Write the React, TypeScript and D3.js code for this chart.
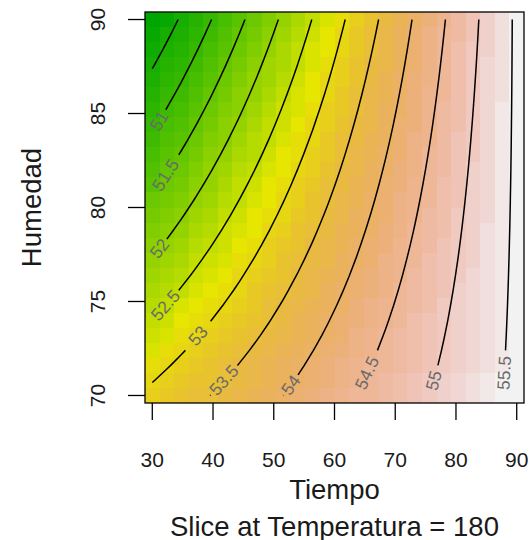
import React, { useRef, useEffect } from "react";
import { select, scaleLinear, scaleQuantize, contours, extent, line } from "d3";

// grid of the fitted surface, Temperatura held at 180
const tiempo = [30, 32.4, 34.8, 37.2, 39.6, 42, 44.4, 46.8, 49.2, 51.6, 54, 56.4, 58.8, 61.2, 63.6, 66, 68.4, 70.8, 73.2, 75.6, 78, 80.4, 82.8, 85.2, 87.6, 90];
const humedad = [70, 70.8, 71.6, 72.4, 73.2, 74, 74.8, 75.6, 76.4, 77.2, 78, 78.8, 79.6, 80.4, 81.2, 82, 82.8, 83.6, 84.4, 85.2, 86, 86.8, 87.6, 88.4, 89.2, 90];

// second order model in coded units: x1 = (Tiempo - 60) / 30, x2 = (Humedad - 80) / 10
const coefNames = ["(Intercept)", "x1", "x2", "x1:x2", "x1^2", "x2^2"];
const coefValues = [53.585, 1.986, -0.755, 0.741, 0, 0.01];

const levels = [50.5, 51, 51.5, 52, 52.5, 53, 53.5, 54, 54.5, 55, 55.5];
// where each contour label sits (data units), null = no label
const labelTiempo = [null, 31.6, 31.6, 31.6, 32.9, 37.5, 42.0, 53.5, 65.3, 76.5, 88.1];
const labelHumedad = [null, 84.8, 81.9, 78.2, 74.9, 73.2, 71.1, 70.9, 71.2, 71.1, 71.5];

const xTicks = [30, 40, 50, 60, 70, 80, 90];
const yTicks = [70, 75, 80, 85, 90];
const xTitle = "Tiempo";
const yTitle = "Humedad";
const subTitle = "Slice at Temperatura = 180";

const FONT = "Liberation Sans, Arial, Helvetica, sans-serif";
const L = 145, R = 524, T = 12, B = 403;

function predict(t: number, h: number) {
  const x1 = (t - 60) / 30;
  const x2 = (h - 80) / 10;
  const terms = [1, x1, x2, x1 * x2, x1 * x1, x2 * x2];
  return terms.reduce((s, v, i) => s + v * coefValues[i], 0);
}

// R's hsv()
function hsv(h: number, s: number, v: number) {
  const h6 = h * 6;
  const i = Math.floor(h6) % 6;
  const f = h6 - Math.floor(h6);
  const p = v * (1 - s), q = v * (1 - s * f), t = v * (1 - s * (1 - f));
  const rgb = [[v, t, p], [q, v, p], [p, v, t], [p, q, v], [t, p, v], [v, p, q]][i];
  return "rgb(" + rgb.map((c) => Math.round(c * 255)).join(",") + ")";
}

// R's terrain.colors(n)
function terrainColors(n: number) {
  const k = Math.floor(n / 2);
  const out: string[] = [];
  for (let i = 0; i < k; i++) {
    const f = i / (k - 1);
    out.push(hsv(1 / 3 - f / 6, 1, 0.65 + 0.25 * f));
  }
  const m = n - k;
  for (let i = 1; i <= m; i++) {
    const f = i / m;
    out.push(hsv((1 - f) / 6, 1 - f, 0.9 + 0.05 * f));
  }
  return out;
}

function cellEdges(a: number[]) {
  const n = a.length;
  return [a[0] - (a[1] - a[0]) / 2, ...a.slice(0, -1).map((v, i) => (v + a[i + 1]) / 2), a[n - 1] + (a[n - 1] - a[n - 2]) / 2];
}

// contour rings -> open lines inside the grid hull
function openRuns(geom: any, nx: number, ny: number) {
  const runs: number[][][] = [];
  const inside = (p: number[]) => p[0] > 0 && p[0] < nx && p[1] > 0 && p[1] < ny;
  geom.coordinates.forEach((poly: any) =>
    poly.forEach((ring: number[][]) => {
      let pts = ring.slice(0, -1);
      const b = pts.findIndex((p) => !inside(p));
      if (b < 0) {
        runs.push(ring);
        return;
      }
      pts = pts.slice(b).concat(pts.slice(0, b));
      let cur: number[][] = [];
      pts.forEach((p) => {
        if (inside(p)) cur.push(p);
        else {
          if (cur.length > 1) runs.push(cur);
          cur = [];
        }
      });
      if (cur.length > 1) runs.push(cur);
    })
  );
  return runs;
}

const textWidth = (s: string, size: number) =>
  s.split("").reduce((w, c) => w + (c === "." ? 0.278 : 0.556), 0) * size;

export default function App() {
  const svgRef = useRef<SVGSVGElement>(null);

  useEffect(() => {
    const svg = select(svgRef.current);
    const nx = tiempo.length, ny = humedad.length;
    const tEdges = cellEdges(tiempo), hEdges = cellEdges(humedad);
    const x = scaleLinear().domain([tEdges[0], tEdges[nx]]).range([L, R]);
    const y = scaleLinear().domain([hEdges[0], hEdges[ny]]).range([B, T]);

    const values: number[] = [];
    for (let j = 0; j < ny; j++) for (let i = 0; i < nx; i++) values.push(predict(tiempo[i], humedad[j]));
    const cells = values.map((z, k) => ({ i: k % nx, j: Math.floor(k / nx), z }));
    const color = scaleQuantize<string>().domain(extent(values) as [number, number]).range(terrainColors(50));

    svg.select(".image")
      .selectAll("rect")
      .data(cells)
      .join("rect")
      .attr("x", (d) => x(tEdges[d.i]))
      .attr("width", (d) => x(tEdges[d.i + 1]) - x(tEdges[d.i]))
      .attr("y", (d) => y(hEdges[d.j + 1]))
      .attr("height", (d) => y(hEdges[d.j]) - y(hEdges[d.j + 1]))
      .attr("fill", (d) => color(d.z))
      .attr("shape-rendering", "crispEdges");

    // grid index -> data
    const gx = scaleLinear().domain([0.5, nx - 0.5]).range([tiempo[0], tiempo[nx - 1]]);
    const gy = scaleLinear().domain([0.5, ny - 0.5]).range([humedad[0], humedad[ny - 1]]);
    const iso = contours().size([nx, ny]).thresholds(levels)(values);

    const paths: number[][][] = [];
    const labels: { text: string; x: number; y: number; a: number }[] = [];
    const fs = 17.5;

    iso.forEach((geom, li) => {
      openRuns(geom, nx, ny).forEach((run) => {
        let pts = run.map((p) => [x(gx(p[0])), y(gy(p[1]))]);
        const f = pts[0], l = pts[pts.length - 1];
        if (l[1] - l[0] > f[1] - f[0]) pts = pts.reverse();
        const lt = labelTiempo[li], lh = labelHumedad[li];
        if (lt == null || lh == null) {
          paths.push(pts);
          return;
        }
        const ax = x(lt), ay = y(lh);
        const txt = String(levels[li]);
        const dist = 1.1 * textWidth(txt, fs);
        let best: any = null;
        for (let a = 0; a < pts.length - 1; a++) {
          let b = a + 1;
          while (b < pts.length && Math.hypot(pts[b][0] - pts[a][0], pts[b][1] - pts[a][1]) < dist) b++;
          if (b >= pts.length) break;
          const mx = (pts[a][0] + pts[b][0]) / 2, my = (pts[a][1] + pts[b][1]) / 2;
          const d = Math.hypot(mx - ax, my - ay);
          if (!best || d < best.d) best = { a, b, mx, my, d };
        }
        if (!best) {
          paths.push(pts);
          return;
        }
        paths.push(pts.slice(0, best.a + 1));
        paths.push(pts.slice(best.b));
        let ang = (Math.atan2(pts[best.b][1] - pts[best.a][1], pts[best.b][0] - pts[best.a][0]) * 180) / Math.PI;
        if (ang > 90) ang -= 180;
        if (ang < -90) ang += 180;
        labels.push({ text: txt, x: best.mx, y: best.my, a: ang });
      });
    });

    svg.select(".contours")
      .selectAll("path")
      .data(paths.filter((p) => p.length > 1))
      .join("path")
      .attr("d", (d) => line()(d as [number, number][]))
      .attr("fill", "none")
      .attr("stroke", "#000")
      .attr("stroke-width", 1.5);

    svg.select(".clabels")
      .selectAll("text")
      .data(labels)
      .join("text")
      .attr("transform", (d) => `translate(${d.x},${d.y}) rotate(${d.a})`)
      .attr("text-anchor", "middle")
      .attr("dominant-baseline", "central")
      .attr("font-size", fs)
      .attr("fill", "#6a6a6a")
      .text((d) => d.text);

    // axes
    const xTick = (v: number) => x(v);
    svg.select(".x-axis")
      .selectAll("line")
      .data(xTicks)
      .join("line")
      .attr("x1", xTick)
      .attr("x2", xTick)
      .attr("y1", B)
      .attr("y2", B + 17)
      .attr("stroke", "#000")
      .attr("stroke-width", 1.3);
    svg.select(".x-axis")
      .selectAll("text")
      .data(xTicks)
      .join("text")
      .attr("x", xTick)
      .attr("y", 466.5)
      .attr("text-anchor", "middle")
      .attr("font-size", 21)
      .text((d) => String(d));

    svg.select(".y-axis")
      .selectAll("line")
      .data(yTicks)
      .join("line")
      .attr("x1", L - 17)
      .attr("x2", L)
      .attr("y1", (d) => y(d))
      .attr("y2", (d) => y(d))
      .attr("stroke", "#000")
      .attr("stroke-width", 1.3);
    svg.select(".y-axis")
      .selectAll("text")
      .data(yTicks)
      .join("text")
      .attr("transform", (d) => `translate(104.5,${y(d)}) rotate(-90)`)
      .attr("text-anchor", "middle")
      .attr("font-size", 21)
      .text((d) => String(d));
  }, []);

  return (
    <svg
      ref={svgRef}
      width={532}
      height={540}
      style={{ position: "absolute", left: 0, top: 0, background: "#fff" }}
      fontFamily={FONT}
    >
      <g className="image"></g>
      <g className="contours"></g>
      <g className="clabels"></g>
      <rect x={L} y={T} width={R - L} height={B - T} fill="none" stroke="#000" strokeWidth={1.3} />
      <g className="x-axis" fill="#1a1a1a"></g>
      <g className="y-axis" fill="#1a1a1a"></g>
      <text x={(L + R) / 2} y={499} textAnchor="middle" fontSize={27.5} fill="#1a1a1a">
        {xTitle}
      </text>
      <text x={(L + R) / 2} y={535.5} textAnchor="middle" fontSize={27.5} fill="#1a1a1a">
        {subTitle}
      </text>
      <text transform={`translate(41,${(T + B) / 2}) rotate(-90)`} textAnchor="middle" fontSize={27.5} fill="#1a1a1a">
        {yTitle}
      </text>
    </svg>
  );
}
